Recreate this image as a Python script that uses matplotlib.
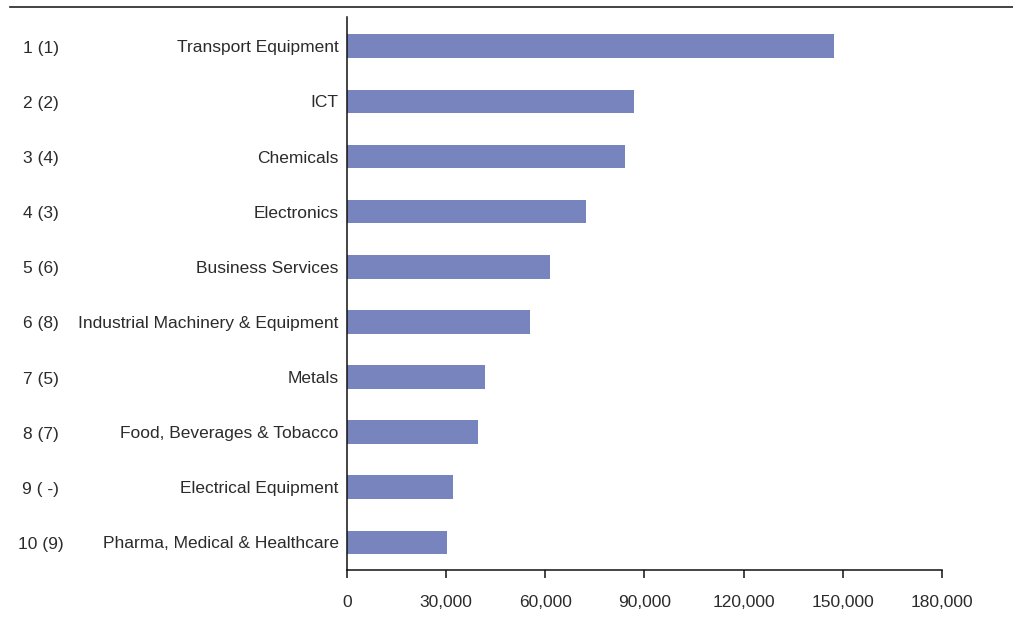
import matplotlib.pyplot as plt
from matplotlib.lines import Line2D
from matplotlib.ticker import FuncFormatter
from matplotlib.transforms import blended_transform_factory, offset_copy

# sectors, ranked (previous rank in brackets)
sectors = ['Transport Equipment', 'ICT', 'Chemicals', 'Electronics',
           'Business Services', 'Industrial Machinery & Equipment', 'Metals',
           'Food, Beverages & Tobacco', 'Electrical Equipment',
           'Pharma, Medical & Healthcare']
ranks = ['1 (1)', '2 (2)', '3 (4)', '4 (3)', '5 (6)', '6 (8)', '7 (5)',
         '8 (7)', '9 ( -)', '10 (9)']
values = [147200, 86700, 84000, 72200, 61300, 55500, 41900, 39500, 32000, 30400]
xticks = [0, 30000, 60000, 90000, 120000, 150000, 180000]

plt.rcParams['font.family'] = ['Liberation Sans', 'DejaVu Sans']
txt = '#2b2b2b'

fig = plt.figure(figsize=(10.13, 6.30), dpi=100)
ax = fig.add_axes([0.3425, 0.0952, 0.5874, 0.8778])

y = list(range(len(sectors)))
ax.barh(y, values, height=0.43, color='#7884be', zorder=2)

ax.set_xlim(0, 180000)
ax.set_ylim(9.5, -0.53)
ax.set_xticks(xticks)
ax.xaxis.set_major_formatter(FuncFormatter(lambda v, p: f'{int(v):,}'))
ax.set_yticks(y)
ax.set_yticklabels(sectors)
for lab in ax.get_yticklabels():
    lab.set_transform(offset_copy(lab.get_transform(), fig=fig, y=-2, units='dots'))

ax.tick_params(axis='y', length=0, pad=6, labelsize=12.5, labelcolor=txt)
ax.tick_params(axis='x', length=6, width=1.1, direction='out', pad=12,
               labelsize=12.5, labelcolor=txt, color='#111111')

for side in ['top', 'right']:
    ax.spines[side].set_visible(False)
for side in ['left', 'bottom']:
    ax.spines[side].set_linewidth(1.1)
    ax.spines[side].set_color('#111111')

# rank column on the far left
rank_tr = offset_copy(blended_transform_factory(fig.transFigure, ax.transData),
                      fig=fig, y=-2, units='dots')
for i, r in enumerate(ranks):
    ax.text(0.040, i, r, transform=rank_tr, ha='center', va='center',
            fontsize=12.5, color=txt)

# rule across the top
fig.add_artist(Line2D([0.010, 1.0], [0.989, 0.989], transform=fig.transFigure,
                      color='#222222', linewidth=1.2))

fig.savefig('out.png', dpi=100)
